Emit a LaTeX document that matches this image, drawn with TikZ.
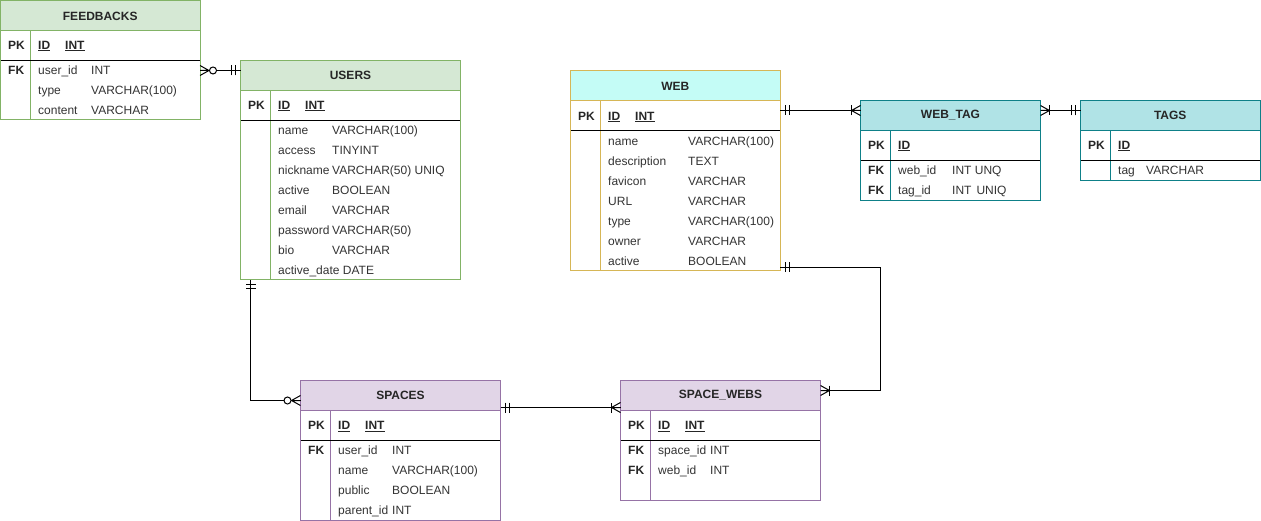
\documentclass[tikz,border=0pt]{standalone}
\usepackage{fontspec}
\setmainfont{Liberation Sans}
\definecolor{grfill}{HTML}{D5E8D4}
\definecolor{grline}{HTML}{82B366}
\definecolor{cyfill}{HTML}{C4FCF6}
\definecolor{goline}{HTML}{D6B656}
\definecolor{tefill}{HTML}{B0E3E6}
\definecolor{teline}{HTML}{0E8088}
\definecolor{pufill}{HTML}{E1D5E7}
\definecolor{puline}{HTML}{9673A6}
\definecolor{fldcol}{HTML}{333333}
\newcounter{fc}
\tikzset{
  ttl/.style={font=\fontsize{12}{14}\selectfont\bfseries, inner sep=0pt, text=black!85},
  fldt/.style={font=\fontsize{12}{14}\selectfont, inner sep=0pt, text=fldcol},
  keyt/.style={font=\fontsize{12}{14}\selectfont\bfseries, inner sep=0pt, text=black!85},
  conn/.style={draw=black, line width=1pt},
  erone/.pic={\draw[line width=1pt] (5,-5)--(5,5) (9,-5)--(9,5);},
  ermanyzero/.pic={\draw[line width=1pt] (0,-5)--(9,0)--(0,5) (0,0)--(9,0);
                   \draw[line width=1pt, fill=white] (13,0) circle (3.5);},
  ermanyone/.pic={\draw[line width=1pt] (0,-5)--(9,0)--(0,5) (0,0)--(9,0);
                  \draw[line width=1pt] (9,-5)--(9,5);},
}
\newcommand\ertable[8]{%
  \fill[#6] (#2,#3) rectangle (#4,#3+30);
  \draw[#7, line width=1pt] (#2,#3+30) -- (#4,#3+30) (#2+30,#3+30) -- (#2+30,#5);
  \draw[black, line width=1pt] (#2,#3+60) -- (#4,#3+60);
  \node[draw=#7, line width=1pt, inner sep=0pt, outer sep=0pt, anchor=north west,
        minimum width={#4pt-#2pt}, minimum height={#5pt-#3pt}] (#1) at (#2,#3) {};
  \node[ttl] (#1-title) at ({(#2+#4)/2},#3+15) {#8};
}
\newcommand\fld[3]{\stepcounter{fc}\node[fldt, anchor=base west] (f\arabic{fc}) at (#1,#2+4.3) {#3};}
\newcommand\kfld[3]{\stepcounter{fc}\node[keyt, anchor=base west] (f\arabic{fc}) at (#1,#2+4.3) {#3};}
\newcommand\ufld[3]{\stepcounter{fc}\node[keyt, anchor=base west] (f\arabic{fc}) at (#1,#2+4.3) {\underline{#3}};}
\begin{document}
\begin{tikzpicture}[x=1pt, y=-1pt]
\useasboundingbox (0,0) rectangle (1261,521);

% FEEDBACKS
\ertable{feedbacks}{0.5}{1}{200}{120}{grfill}{grline}{FEEDBACKS}
\kfld{8}{45}{PK}\ufld{38}{45}{ID}\ufld{65}{45}{INT}
\kfld{8}{70}{FK}\fld{38}{70}{user\_id}\fld{91}{70}{INT}
\fld{38}{90}{type}\fld{91}{90}{VARCHAR(100)}
\fld{38}{110}{content}\fld{91}{110}{VARCHAR}

% USERS
\ertable{users}{240.5}{60.5}{460.5}{280}{grfill}{grline}{USERS}
\kfld{248}{105}{PK}\ufld{278}{105}{ID}\ufld{305}{105}{INT}
\fld{278}{130}{name}\fld{332}{130}{VARCHAR(100)}
\fld{278}{150}{access}\fld{332}{150}{TINYINT}
\fld{278}{170}{nickname}\fld{332}{170}{VARCHAR(50) UNIQ}
\fld{278}{190}{active}\fld{332}{190}{BOOLEAN}
\fld{278}{210}{email}\fld{332}{210}{VARCHAR}
\fld{278}{230}{password}\fld{332}{230}{VARCHAR(50)}
\fld{278}{250}{bio}\fld{332}{250}{VARCHAR}
\fld{278}{270}{active\_date DATE}

% WEB
\ertable{web}{570.5}{71}{780}{271}{cyfill}{goline}{WEB}
\kfld{578}{116}{PK}\ufld{608}{116}{ID}\ufld{635}{116}{INT}
\fld{608}{141}{name}\fld{688}{141}{VARCHAR(100)}
\fld{608}{161}{description}\fld{688}{161}{TEXT}
\fld{608}{181}{favicon}\fld{688}{181}{VARCHAR}
\fld{608}{201}{URL}\fld{688}{201}{VARCHAR}
\fld{608}{221}{type}\fld{688}{221}{VARCHAR(100)}
\fld{608}{241}{owner}\fld{688}{241}{VARCHAR}
\fld{608}{261}{active}\fld{688}{261}{BOOLEAN}

% WEB_TAG
\ertable{webtag}{860.5}{100.5}{1040.5}{200.5}{tefill}{teline}{WEB\_TAG}
\kfld{868}{145}{PK}\ufld{898}{145}{ID}
\kfld{868}{170}{FK}\fld{898}{170}{web\_id}\fld{952}{170}{INT UNQ}
\kfld{868}{190}{FK}\fld{898}{190}{tag\_id}\fld{952}{190}{INT\hspace{5pt}UNIQ}

% TAGS
\ertable{tags}{1080.5}{100.5}{1260}{180.5}{tefill}{teline}{TAGS}
\kfld{1088}{145}{PK}\ufld{1118}{145}{ID}
\fld{1118}{170}{tag}\fld{1146}{170}{VARCHAR}

% SPACES
\ertable{spaces}{300.5}{380.5}{500.5}{520}{pufill}{puline}{SPACES}
\kfld{308}{425}{PK}\ufld{338}{425}{ID}\ufld{365}{425}{INT}
\kfld{308}{450}{FK}\fld{338}{450}{user\_id}\fld{392}{450}{INT}
\fld{338}{470}{name}\fld{392}{470}{VARCHAR(100)}
\fld{338}{490}{public}\fld{392}{490}{BOOLEAN}
\fld{338}{510}{parent\_id}\fld{392}{510}{INT}

% SPACE_WEBS
\ertable{spacewebs}{620.5}{380.5}{820.5}{500.5}{pufill}{puline}{SPACE\_WEBS}
\kfld{628}{425}{PK}\ufld{658}{425}{ID}\ufld{685}{425}{INT}
\kfld{628}{450}{FK}\fld{658}{450}{space\_id}\fld{710}{450}{INT}
\kfld{628}{470}{FK}\fld{658}{470}{web\_id}\fld{710}{470}{INT}

% connector end points
\coordinate (fb-r) at (feedbacks.east |- 0,70.5);
\coordinate (us-l) at (users.west |- 0,70.5);
\coordinate (us-b) at (users.south -| 250.5,0);
\coordinate (sp-l) at (spaces.west |- 0,400.5);
\coordinate (wb-r1) at (web.east |- 0,110.5);
\coordinate (wt-l) at (webtag.west |- 0,110.5);
\coordinate (wt-r) at (webtag.east |- 0,110.5);
\coordinate (tg-l) at (tags.west |- 0,110.5);
\coordinate (wb-r2) at (web.east |- 0,267.5);
\coordinate (sw-r) at (spacewebs.east |- 0,390.5);
\coordinate (sp-r) at (spaces.east |- 0,407.5);
\coordinate (sw-l) at (spacewebs.west |- 0,407.5);

% connectors
\draw[conn] (fb-r) -- (us-l);
\pic at (fb-r) {ermanyzero};
\pic[rotate=180] at (us-l) {erone};

\draw[conn] (us-b) |- (sp-l);
\pic[rotate=-90] at (us-b) {erone};
\pic[rotate=180] at (sp-l) {ermanyzero};

\draw[conn] (wb-r1) -- (wt-l);
\pic at (wb-r1) {erone};
\pic[rotate=180] at (wt-l) {ermanyone};

\draw[conn] (wt-r) -- (tg-l);
\pic at (wt-r) {ermanyone};
\pic[rotate=180] at (tg-l) {erone};

\draw[conn] (wb-r2) -- (880.5,267.5) |- (sw-r);
\pic at (wb-r2) {erone};
\pic at (sw-r) {ermanyone};

\draw[conn] (sp-r) -- (sw-l);
\pic at (sp-r) {erone};
\pic[rotate=180] at (sw-l) {ermanyone};
\end{tikzpicture}
\end{document}
